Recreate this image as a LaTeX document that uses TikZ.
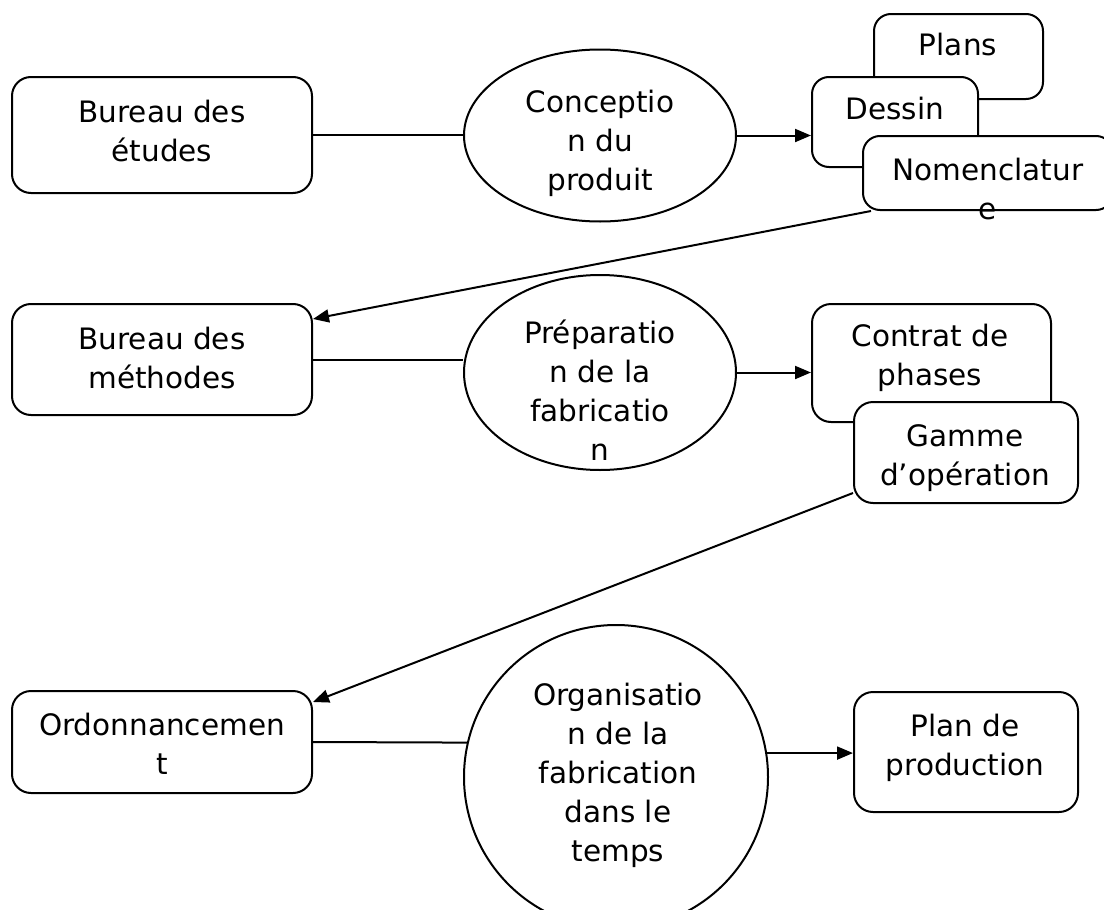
\documentclass[tikz,border=0pt]{standalone}
\usepackage{fontspec}
\setmainfont{DejaVu Sans}
\usetikzlibrary{shapes.geometric,arrows.meta}
\begin{document}
\begin{tikzpicture}[x=1pt,y=-1pt,
  box/.style={draw,line width=2pt,rounded corners=19pt,fill=white,inner sep=0pt},
  oval/.style={draw,line width=2pt,ellipse,fill=white,inner sep=0pt},
  round/.style={draw,line width=2pt,circle,fill=white,inner sep=0pt},
  txt/.style={align=center,inner sep=0pt,font=\fontsize{29.5}{39}\selectfont},
  link/.style={line width=2pt},
  arr/.style={line width=2pt,-{Triangle[length=16pt,width=13pt]}}]
\useasboundingbox (0,0) rectangle (1104,910);
\clip (0,0) rectangle (1104,910);
% row 1
\node[box,minimum width=300pt,minimum height=116pt] (be) at (162,135) {};
\node[oval,minimum width=272pt,minimum height=172pt] (conc) at (600,135.5) {};
\node[box,rounded corners=17pt,minimum width=169pt,minimum height=85pt] (plans) at (958.5,56.5) {};
\node[box,rounded corners=17pt,minimum width=166pt,minimum height=90pt] (des) at (895,122) {};
\node[box,rounded corners=17pt,minimum width=250pt,minimum height=74pt] (nom) at (988,173) {};
% row 2
\node[box,minimum width=300pt,minimum height=111pt] (bm) at (162,359.5) {};
\node[oval,minimum width=272pt,minimum height=195pt] (prep) at (600,372.5) {};
\node[box,minimum width=239pt,minimum height=118pt] (ct) at (931.5,363) {};
\node[box,minimum width=224pt,minimum height=101pt] (gm) at (966,452.5) {};
% row 3
\node[box,minimum width=300pt,minimum height=102pt] (ord) at (162,742) {};
\node[round,minimum size=304pt] (org) at (616,777) {};
\node[box,minimum width=224pt,minimum height=120pt] (pp) at (966,752) {};
% texts
\node[txt] (tbe) at (162,131) {Bureau des\\études};
\node[txt] (tconc) at (600,143) {Conceptio\\n du\\produit};
\node[txt] (tplans) at (958,45) {Plans};
\node[txt] (tdes) at (895,109) {Dessin};
\node[txt] (tnom) at (988,189) {Nomenclatur\\e};
\node[txt] (tbm) at (162,358) {Bureau des\\méthodes};
\node[txt] (tprep) at (600,390) {Préparatio\\n de la\\fabricatio\\n};
\node[txt] (tct) at (930,358) {Contrat de\\phases};
\node[txt] (tgm) at (965,458) {Gamme\\d’opération};
\node[txt] (tord) at (162,744) {Ordonnancemen\\t};
\node[txt] (torg) at (618,775) {Organisatio\\n de la\\fabrication\\dans le\\temps};
\node[txt] (tpp) at (965,748) {Plan de\\production};
% connectors
\draw[link] (be.east) -- (be.east -| conc.west);
\draw[arr] (conc.east) -- (conc.east -| des.west);
\draw[arr] ([xshift=9pt]nom.south west) -- ([yshift=-16pt]bm.north east);
\draw[link] (bm.east) -- (bm.east -| prep.west);
\draw[arr] (prep.east) -- (prep.east -| ct.west);
\draw[arr] ([yshift=11pt]gm.south west) -- ([yshift=-12pt]ord.north east);
\draw[link] (ord.east) -- (org.167);
\draw[arr] (org.9) -- (org.9 -| pp.west);
\end{tikzpicture}
\end{document}
